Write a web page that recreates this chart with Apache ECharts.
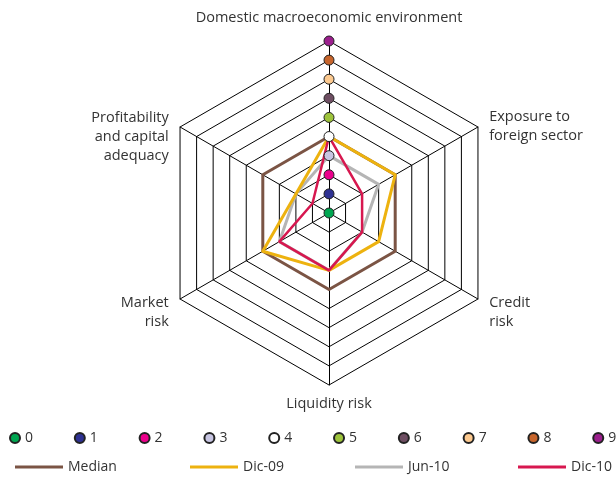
<!DOCTYPE html>
<html>
<head>
<meta charset="utf-8">
<script src="https://cdn.jsdelivr.net/npm/echarts@6/dist/echarts.min.js"></script>
<style>
  html, body { margin: 0; padding: 0; background: #fff; }
  #chart { width: 616px; height: 477px; }
</style>
</head>
<body>
<div id="chart"></div>
<script>
// indicators, counter-clockwise from the top
const indicatorNames = ['Domestic macroeconomic environment', 'Profitability\nand capital\nadequacy', 'Market\nrisk', 'Liquidity risk', 'Credit\nrisk', 'Exposure to\nforeign sector'];
const seriesNames = ['Median', 'Jun-10', 'Dic-09', 'Dic-10'];
const medianValues = [4, 4, 4, 4, 4, 4];
const jun10Values = [3, 2, 3, 3, 2, 3];
const dic09Values = [4, 2, 4, 3, 3, 4];
const dic10Values = [4, 1, 3, 3, 2, 2];
const scaleLabels = ['0', '1', '2', '3', '4', '5', '6', '7', '8', '9'];
const scaleValues = [0, 1, 2, 3, 4, 5, 6, 7, 8, 9];
const scaleColors = ['#00a651', '#2e3192', '#ec008c', '#c7c5e2', '#ffffff', '#9dc33b', '#6e4e62', '#fcc98f', '#c7652c', '#9b1f8d'];
const lineColors = { 'Median': '#7b5444', 'Jun-10': '#b5b5b5', 'Dic-09': '#edb20f', 'Dic-10': '#d7174f' };
const lineWidths = { 'Median': 3, 'Jun-10': 3, 'Dic-09': 3, 'Dic-10': 2.5 };
const valueByName = { 'Median': medianValues, 'Jun-10': jun10Values, 'Dic-09': dic09Values, 'Dic-10': dic10Values };

const FONT = '"Open Sans", sans-serif';
const CENTER = [329, 213];
const RADIUS = 172;

const myChart = echarts.init(document.getElementById('chart'));

// rich styles per line of each name, to nudge them like the original
const nameStyles = {
    'Domestic macroeconomic environment': ['top'],
    'Liquidity risk': ['bot'],
    'Exposure to\nforeign sector': ['e1', 'e2'],
    'Credit\nrisk': ['c1', 'c2'],
    'Market\nrisk': ['c1', 'c2']
};

const radarSeries = seriesNames.map(n => ({
    name: n,
    type: 'radar',
    symbol: 'none',
    z: 2,
    lineStyle: { color: lineColors[n], width: lineWidths[n] },
    itemStyle: { color: lineColors[n] },
    data: [{ name: n, value: valueByName[n] }]
}));

const dotSeries = scaleLabels.map((lab, i) => ({
    name: lab,
    type: 'scatter',
    coordinateSystem: 'polar',
    symbol: 'circle',
    symbolSize: 10,
    z: 5,
    itemStyle: { color: scaleColors[i], borderColor: '#222', borderWidth: 1, opacity: 1 },
    data: [[scaleValues[i], 0]]
}));

const lineLegendLeft = [15, 190, 355, 518];
const legendOrder = ['Median', 'Dic-09', 'Jun-10', 'Dic-10'];

const option = {
    backgroundColor: '#fff',
    animation: false,
    textStyle: { fontFamily: FONT, color: '#333' },
    radar: {
        center: CENTER,
        radius: RADIUS,
        startAngle: 90,
        shape: 'polygon',
        splitNumber: 9,
        nameGap: 13,
        indicator: indicatorNames.map(n => ({ name: n, min: 0, max: 9 })),
        axisName: {
            color: '#333',
            fontFamily: FONT,
            fontSize: 14.5,
            lineHeight: 19,
            formatter: function (name) {
                if (name.indexOf('Profitability') === 0) return '{sp| }\n' + name;
                const st = nameStyles[name];
                if (!st) return name;
                return name.split('\n').map((l, i) => '{' + st[i] + '|' + l + '}').join('\n');
            },
            rich: {
                sp: { lineHeight: 32, fontSize: 2 },
                top: { lineHeight: 21, fontSize: 14.5, fontFamily: FONT, color: '#333' },
                bot: { lineHeight: 11, fontSize: 14.5, fontFamily: FONT, color: '#333' },
                e1: { lineHeight: 30, fontSize: 14.5, fontFamily: FONT, color: '#333' },
                e2: { lineHeight: 8, fontSize: 14.5, fontFamily: FONT, color: '#333' },
                c1: { lineHeight: 33, fontSize: 14.5, fontFamily: FONT, color: '#333' },
                c2: { lineHeight: 5, fontSize: 14.5, fontFamily: FONT, color: '#333' }
            }
        },
        axisLine: { lineStyle: { color: '#000', width: 1 } },
        splitLine: { lineStyle: { color: '#000', width: 1 } },
        splitArea: { show: false },
        axisTick: { show: false },
        axisLabel: { show: false }
    },
    polar: { center: CENTER, radius: RADIUS },
    angleAxis: { type: 'value', min: 0, max: 360, startAngle: 90, show: false },
    radiusAxis: { type: 'value', min: 0, max: 9, show: false },
    legend: [
        {
            data: scaleLabels,
            left: 9,
            top: 431,
            width: 640,
            padding: 0,
            orient: 'horizontal',
            itemWidth: 10,
            itemHeight: 10,
            itemGap: 40.8,
            icon: 'circle',
            textStyle: { fontFamily: FONT, fontSize: 14, color: '#333' }
        }
    ].concat(legendOrder.map((n, i) => ({
        data: [n],
        left: lineLegendLeft[i],
        top: 460,
        padding: 0,
        itemWidth: 48,
        itemHeight: 3,
        icon: 'rect',
        itemGap: 5,
        textStyle: { fontFamily: FONT, fontSize: 14, color: '#333' }
    }))),
    series: radarSeries.concat(dotSeries)
};

myChart.setOption(option);
window.addEventListener('resize', function () {
    myChart.resize();
});
</script>
</body>
</html>
